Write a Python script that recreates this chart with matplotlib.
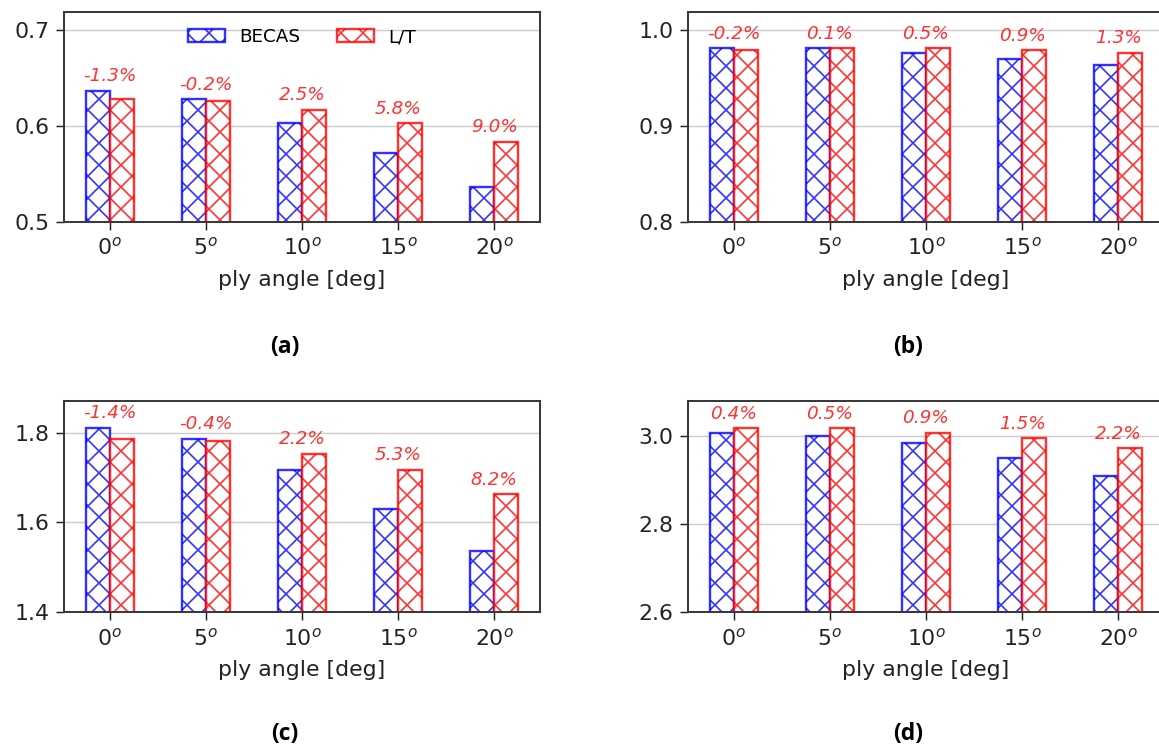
import numpy as np
import matplotlib.pyplot as plt

# ply angles and section values
angles = ['$0^o$', '$5^o$', '$10^o$', '$15^o$', '$20^o$']

becas_a = [0.637, 0.628, 0.603, 0.572, 0.537]
lt_a = [0.628, 0.626, 0.617, 0.603, 0.584]
diff_a = ['-1.3%', '-0.2%', '2.5%', '5.8%', '9.0%']

becas_b = [0.981, 0.981, 0.976, 0.970, 0.964]
lt_b = [0.979, 0.981, 0.981, 0.979, 0.976]
diff_b = ['-0.2%', '0.1%', '0.5%', '0.9%', '1.3%']

becas_c = [1.811, 1.786, 1.717, 1.629, 1.537]
lt_c = [1.786, 1.782, 1.753, 1.717, 1.663]
diff_c = ['-1.4%', '-0.4%', '2.2%', '5.3%', '8.2%']

becas_d = [3.007, 3.001, 2.983, 2.951, 2.909]
lt_d = [3.017, 3.017, 3.007, 2.995, 2.972]
diff_d = ['0.4%', '0.5%', '0.9%', '1.5%', '2.2%']

ylims = [(0.5, 0.7195), (0.8, 1.019), (1.4, 1.871), (2.6, 3.080)]
yticks = [[0.5, 0.6, 0.7], [0.8, 0.9, 1.0], [1.4, 1.6, 1.8], [2.6, 2.8, 3.0]]
panel_names = ['(a)', '(b)', '(c)', '(d)']

plt.rcParams['hatch.linewidth'] = 0.9

W, H = 1159, 751
DPI = 132
fig = plt.figure(figsize=(W / DPI, H / DPI), dpi=DPI)

# axes boxes in pixels: left, top, width, height
boxes = [(64, 11.7, 476, 210.3), (688, 11.7, 476, 210.3),
         (64, 400.7, 476, 211.6), (688, 400.7, 476, 211.6)]
label_pos = [(285, 347), (908, 347), (285, 734), (908, 734)]

data = [(becas_a, lt_a, diff_a), (becas_b, lt_b, diff_b),
        (becas_c, lt_c, diff_c), (becas_d, lt_d, diff_d)]

x = np.arange(len(angles))
w = 0.25

for k, (becas, lt, diff) in enumerate(data):
    l, t, bw, bh = boxes[k]
    ax = fig.add_axes([l / W, 1 - (t + bh) / H, bw / W, bh / H])
    ax.bar(x - w / 2, becas, w, facecolor='white', edgecolor='blue',
           hatch='xx', lw=1.3, alpha=0.8, label='BECAS')
    ax.bar(x + w / 2, lt, w, facecolor='white', edgecolor='red',
           hatch='xx', lw=1.3, alpha=0.8, label='L/T')
    for i in range(len(x)):
        top = max(becas[i], lt[i])
        ax.annotate(diff[i], (x[i], top), xytext=(0, 3), textcoords='offset points',
                    ha='center', va='bottom', color='red', style='italic',
                    fontsize=10, alpha=0.8)
    ax.set_ylim(*ylims[k])
    ax.set_yticks(yticks[k])
    ax.set_yticklabels(['%.1f' % v for v in yticks[k]])
    ax.set_xticks(x)
    ax.set_xticklabels(angles)
    ax.tick_params(labelsize=12, length=4.5, colors='#222222')
    ax.grid(axis='y', color='#cccccc', lw=0.8)
    ax.set_axisbelow(True)
    for s in ax.spines.values():
        s.set_color('#3a3a3a')
        s.set_linewidth(1.1)
    ax.set_xlabel('ply angle [deg]', fontsize=12, color='#222222', labelpad=6)
    if k == 0:
        ax.legend(loc='upper center', ncol=2, frameon=False, fontsize=10)
    lx, ly = label_pos[k]
    fig.text(lx / W, 1 - ly / H, panel_names[k], ha='center', va='center',
             fontsize=12.5, fontweight='bold', family='Open Sans')

fig.savefig('out.png', dpi=DPI)
